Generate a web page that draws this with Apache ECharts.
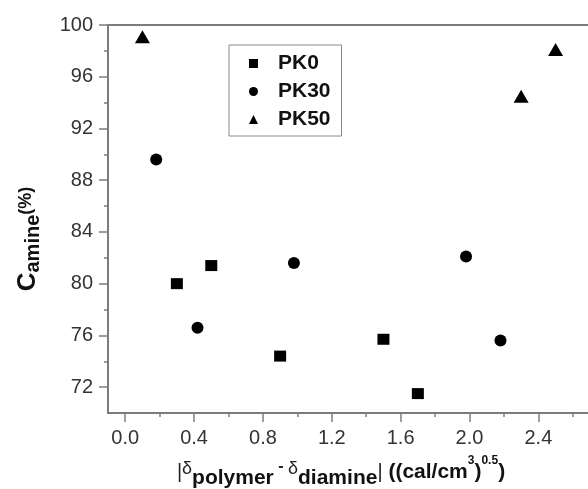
<!DOCTYPE html>
<html>
<head>
<meta charset="utf-8">
<script src="https://cdn.jsdelivr.net/npm/echarts@6/dist/echarts.min.js"></script>
<style>
  html, body { margin: 0; padding: 0; background: #fff; }
  #chart { width: 588px; height: 489px; }
</style>
</head>
<body>
<div id="chart"></div>
<script>
// data
const pk0X = [0.3, 0.5, 0.9, 1.5, 1.7];
const pk0Y = [80.0, 81.4, 74.4, 75.7, 71.5];
const pk30X = [0.18, 0.42, 0.98, 1.98, 2.18];
const pk30Y = [89.6, 76.6, 81.6, 82.1, 75.6];
const pk50X = [0.1, 2.3, 2.5];
const pk50Y = [99.1, 94.5, 98.1];

const xMajor = [0, 0.4, 0.8, 1.2, 1.6, 2.0, 2.4];
const xMinor = [0.2, 0.6, 1.0, 1.4, 1.8, 2.2, 2.6];
const yMajor = [72, 76, 80, 84, 88, 92, 96, 100];
const yMinor = [74, 78, 82, 86, 90, 94, 98];

const pairs = (xs, ys) => xs.map((x, i) => [x, ys[i]]);

const font = 'Liberation Sans, Arial, sans-serif';
const axisGray = '#7c7c7c';
const ink = '#111';
const grid = { left: 108, top: 25, right: -2, bottom: 76, outerBoundsMode: 'none' };

const chart = echarts.init(document.getElementById('chart'), null, { renderer: 'canvas' });

// minor ticks live on a second, identical grid
chart.setOption({
  animation: false,
  textStyle: { fontFamily: font },
  grid: [
    Object.assign({ show: true, borderColor: axisGray, borderWidth: 2 }, grid),
    Object.assign({}, grid)
  ],
  legend: {
    orient: 'vertical',
    left: 229,
    top: 45,
    padding: [8, 11, 6, 20],
    itemGap: 7,
    itemWidth: 9,
    itemHeight: 9,
    borderColor: '#888',
    borderWidth: 1,
    textStyle: { fontSize: 21, fontWeight: 'bold', color: ink, padding: [0, 0, 0, 15] },
    data: [
      { name: 'PK0', icon: 'rect' },
      { name: 'PK30', icon: 'circle' },
      { name: 'PK50', icon: 'triangle' }
    ]
  },
  xAxis: [{
    type: 'value',
    gridIndex: 0,
    min: -0.1,
    max: 2.7,
    splitLine: { show: false },
    axisLine: { show: true, onZero: false, lineStyle: { color: axisGray, width: 2 } },
    axisTick: { show: true, customValues: xMajor, length: 9, lineStyle: { color: axisGray, width: 1.5 } },
    axisLabel: {
      customValues: xMajor, margin: 15, fontSize: 20, color: '#333',
      formatter: v => v.toFixed(1)
    },
    name: '{b||}{d|δ}{s|polymer}{m| - }{d|δ}{s|diamine}{b||}{u| ((cal/cm}{p|3}{u|)}{p|0.5}{u|)}',
    nameLocation: 'middle',
    nameGap: 42,
    nameTextStyle: {
      padding: [0, 16, 0, 0],
      rich: {
        b: { fontSize: 20, color: '#222', verticalAlign: 'middle', lineHeight: 34 },
        d: { fontSize: 18, color: '#222', verticalAlign: 'middle', lineHeight: 20, padding: [0, 0, 6, 0] },
        m: { fontSize: 16, fontWeight: 'bold', color: '#222', verticalAlign: 'middle', lineHeight: 18, padding: [0, 0, 10, 0] },
        s: { fontSize: 21, fontWeight: 'bold', color: ink, verticalAlign: 'bottom', lineHeight: 17 },
        u: { fontSize: 21, fontWeight: 'bold', color: ink, verticalAlign: 'middle', lineHeight: 34 },
        p: { fontSize: 12, fontWeight: 'bold', color: ink, verticalAlign: 'top', lineHeight: 14 }
      }
    }
  }, {
    type: 'value',
    gridIndex: 1,
    min: -0.1,
    max: 2.7,
    splitLine: { show: false },
    axisLine: { show: false, onZero: false },
    axisTick: { show: true, customValues: xMinor, length: 4, lineStyle: { color: axisGray, width: 1.5 } },
    axisLabel: { show: false }
  }],
  yAxis: [{
    type: 'value',
    gridIndex: 0,
    min: 70,
    max: 100,
    splitLine: { show: false },
    axisLine: { show: true, onZero: false, lineStyle: { color: axisGray, width: 2 } },
    axisTick: { show: true, customValues: yMajor, length: 9, lineStyle: { color: axisGray, width: 1.5 } },
    axisLabel: { customValues: yMajor, margin: 15, fontSize: 20, color: '#333' },
    name: '{c|C}{s|amine}{p|(%)}',
    nameLocation: 'middle',
    nameRotate: 90,
    nameGap: 65,
    nameTextStyle: {
      padding: [0, 40, 0, 0],
      rich: {
        c: { fontSize: 26, fontWeight: 'bold', color: ink, verticalAlign: 'middle', lineHeight: 30 },
        s: { fontSize: 20, fontWeight: 'bold', color: ink, verticalAlign: 'bottom', lineHeight: 22 },
        p: { fontSize: 18, fontWeight: 'bold', color: ink, verticalAlign: 'middle', lineHeight: 18, padding: [0, 0, 3, 0] }
      }
    }
  }, {
    type: 'value',
    gridIndex: 1,
    min: 70,
    max: 100,
    splitLine: { show: false },
    axisLine: { show: false, onZero: false },
    axisTick: { show: true, customValues: yMinor, length: 4, lineStyle: { color: axisGray, width: 1.5 } },
    axisLabel: { show: false }
  }],
  series: [{
    name: 'PK0',
    type: 'scatter',
    symbol: 'rect',
    symbolSize: [12, 11],
    itemStyle: { color: '#000', opacity: 1 },
    data: pairs(pk0X, pk0Y)
  }, {
    name: 'PK30',
    type: 'scatter',
    symbol: 'circle',
    symbolSize: 12,
    itemStyle: { color: '#000', opacity: 1 },
    data: pairs(pk30X, pk30Y)
  }, {
    name: 'PK50',
    type: 'scatter',
    symbol: 'triangle',
    symbolSize: [15, 13],
    itemStyle: { color: '#000', opacity: 1 },
    data: pairs(pk50X, pk50Y)
  }]
});
</script>
</body>
</html>
